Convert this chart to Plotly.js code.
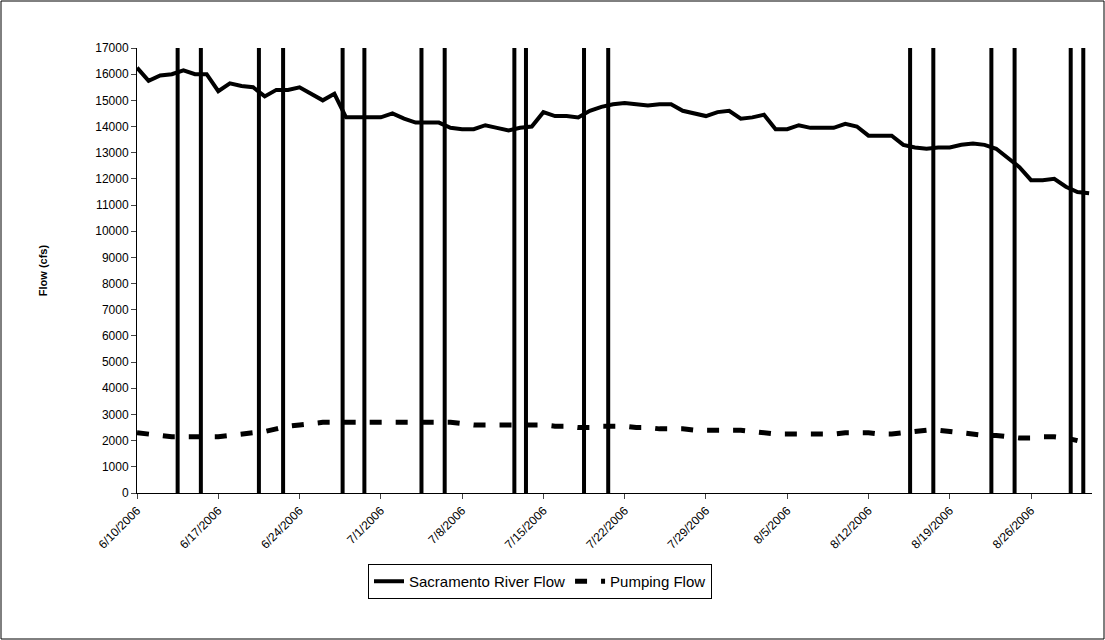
<!DOCTYPE html>
<html>
<head>
<meta charset="utf-8">
<script src="https://cdn.plot.ly/plotly-3.0.1.min.js"></script>
<style>body{margin:0;background:#fff}#chart{width:1105px;height:640px}</style>
</head>
<body>
<div id="chart"></div>
<script>
const startDate = "2006-06-10";
const riverFlow = [16250, 15750, 15950, 16000, 16150, 16000, 16000, 15350, 15650, 15550,
  15500, 15150, 15400, 15400, 15500, 15250, 15000, 15250, 14350, 14350, 14350,
  14350, 14500, 14300, 14150, 14150, 14150, 13950, 13900, 13900, 14050, 13950,
  13850, 13950, 14000, 14550, 14400, 14400, 14350, 14600, 14750, 14850, 14900,
  14850, 14800, 14850, 14850, 14600, 14500, 14400, 14550, 14600,
  14300, 14350, 14450, 13900, 13900, 14050, 13950, 13950, 13950, 14100, 14000,
  13650, 13650, 13650, 13300, 13200, 13150, 13200, 13200, 13300, 13350, 13300,
  13150, 12800, 12450, 11950, 11950, 12000, 11700, 11500, 11450];
const pumpFlow = [2300, 2250, 2200, 2150, 2150, 2150, 2150, 2150, 2200, 2250,
  2300, 2350, 2450, 2550, 2600, 2650, 2700, 2700, 2700, 2700, 2700,
  2700, 2700, 2700, 2700, 2700, 2700, 2700, 2650, 2600, 2600, 2600,
  2600, 2600, 2600, 2600, 2550, 2550, 2500, 2500, 2550, 2550, 2550,
  2500, 2500, 2450, 2450, 2450, 2400, 2400, 2400, 2400,
  2400, 2350, 2300, 2250, 2250, 2250, 2250, 2250, 2250, 2300, 2300,
  2300, 2250, 2250, 2300, 2350, 2400, 2400, 2350, 2300, 2250, 2200,
  2200, 2150, 2100, 2100, 2150, 2150, 2100, 2000, null];
const eventLines = ["2006-06-13 12:00", "2006-06-15 12:00", "2006-06-20 12:00", "2006-06-22 14:00",
  "2006-06-27 17:00", "2006-06-29 14:00", "2006-07-04 12:00", "2006-07-06 12:00",
  "2006-07-12 12:00", "2006-07-13 12:00", "2006-07-18 12:00", "2006-07-20 14:00",
  "2006-08-15 14:00", "2006-08-17 14:00", "2006-08-22 14:00", "2006-08-24 14:00",
  "2006-08-29 10:00", "2006-08-30 12:00"];

const days = riverFlow.map((_, i) => {
  const d = new Date(startDate + "T00:00:00Z");
  d.setUTCDate(d.getUTCDate() + i);
  return d.toISOString().slice(0, 10);
});

const lx = [], ly = [];
eventLines.forEach(t => { lx.push(t, t, null); ly.push(0, 17000, null); });

const traces = [
  { x: lx, y: ly, mode: "lines", line: { color: "#000", width: 4 }, showlegend: false, hoverinfo: "skip" },
  { x: days, y: riverFlow, mode: "lines", name: "Sacramento River Flow", line: { color: "#000", width: 4 } },
  { x: days, y: pumpFlow, mode: "lines", name: "Pumping Flow", line: { color: "#000", width: 5, dash: "12px,14px" } },
];

const W = 955, H = 445;
const layout = {
  width: 1105, height: 640,
  margin: { l: 137, r: 13, t: 48, b: 147 },
  paper_bgcolor: "#fff", plot_bgcolor: "#fff",
  font: { family: "Arial, Liberation Sans, sans-serif", size: 12, color: "#000" },
  xaxis: {
    type: "date", range: ["2006-06-10", "2006-08-31 06:00"],
    tick0: "2006-06-10", dtick: 7 * 86400000, tickformat: "%-m/%-d/%Y",
    tickangle: -45, ticks: "outside", ticklen: 5, showgrid: false,
    showline: true, linecolor: "#000", zeroline: false, tickfont: { size: 12 },
  },
  yaxis: {
    range: [0, 17000], dtick: 1000, tickformat: "d", ticks: "outside", ticklen: 5, showgrid: false,
    showline: true, linecolor: "#000", zeroline: false, tickfont: { size: 12 },
    title: { text: "<b>Flow (cfs)</b>", font: { size: 11 }, standoff: 45 },
  },
  showlegend: true,
  legend: {
    orientation: "h", x: (540 - 137) / W, xanchor: "center", y: (493 - 564) / H, yanchor: "top",
    bordercolor: "#000", borderwidth: 1, font: { size: 15 },
  },
  shapes: [
    { type: "rect", xref: "paper", yref: "paper", x0: -136 / W, x1: 1 + 12 / W, y0: -146 / H, y1: 1 + 47 / H,
      line: { color: "#000", width: 1 } },
  ],
};

Plotly.newPlot("chart", traces, layout, { displayModeBar: false });
</script>
</body>
</html>
